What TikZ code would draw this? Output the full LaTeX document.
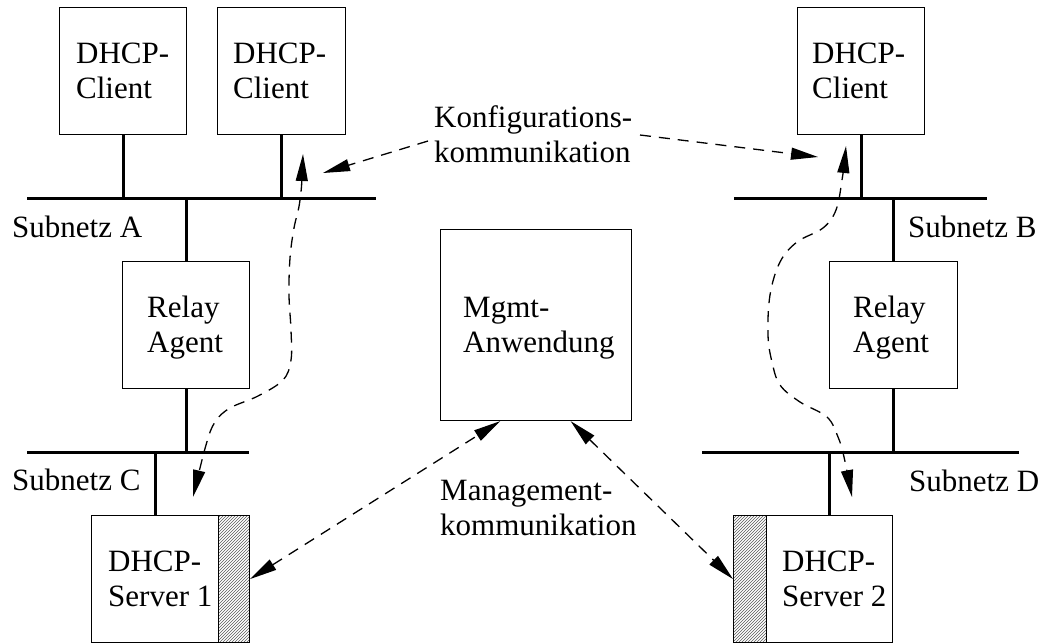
\documentclass[tikz,border=0pt]{standalone}
\usepackage{fontspec}
\setmainfont{Liberation Serif}
\usetikzlibrary{arrows.meta,patterns,calc}
\begin{document}
\begin{tikzpicture}[x=1pt,y=-1pt,
  every node/.style={font=\fontsize{31}{35}\selectfont},
  box/.style={draw, line width=1.1pt, inner sep=0pt, anchor=north west},
  lbl/.style={inner sep=0pt, align=left, anchor=north west},
  sublbl/.style={inner sep=0pt, anchor=base west},
  bus/.style={line width=3pt},
  flow/.style={line width=1.3pt, dash pattern=on 11pt off 8pt,
    -{Triangle[length=27pt,width=12pt]}},
  flow2/.style={flow,
    {Triangle[length=27pt,width=12pt]}-{Triangle[length=27pt,width=12pt]}},
  hatch/.style={draw, line width=1.1pt, inner sep=0pt, anchor=north west,
    pattern=north east lines, pattern color=black!65}
]
\useasboundingbox (0,0) rectangle (1049,643);

% ---- bus segments ----
\coordinate (busA-w) at (27,198);  \coordinate (busA-e) at (376,198);
\coordinate (busB-w) at (734,198); \coordinate (busB-e) at (987,198);
\coordinate (busC-w) at (27,452);  \coordinate (busC-e) at (249,452);
\coordinate (busD-w) at (702,452); \coordinate (busD-e) at (1019,452);
\draw[bus] (busA-w) -- (busA-e);
\draw[bus] (busB-w) -- (busB-e);
\draw[bus] (busC-w) -- (busC-e);
\draw[bus] (busD-w) -- (busD-e);

% ---- boxes ----
\node[box, minimum width=127pt, minimum height=127pt] (c1) at (59,7) {};
\node[box, minimum width=128pt, minimum height=127pt] (c2) at (217,7) {};
\node[box, minimum width=127pt, minimum height=127pt] (c3) at (797,7) {};
\node[box, minimum width=127pt, minimum height=127pt] (rA) at (122,261) {};
\node[box, minimum width=128pt, minimum height=127pt] (rB) at (829,261) {};
\node[box, minimum width=191pt, minimum height=191pt] (mgmt) at (440,229) {};
\node[box, minimum width=127pt, minimum height=127pt] (s1) at (91,515) {};
\node[hatch, minimum width=31pt, minimum height=127pt] (h1) at (218,515) {};
\node[hatch, minimum width=33pt, minimum height=127pt] (h2) at (733,515) {};
\node[box, minimum width=126pt, minimum height=127pt] (s2) at (766,515) {};

% ---- box texts ----
\node[lbl] (tc1) at (76,43) {DHCP-\\Client};
\node[lbl] (tc2) at (233,43) {DHCP-\\Client};
\node[lbl] (tc3) at (812,43) {DHCP-\\Client};
\node[lbl] (trA) at (147,296) {Relay\\Agent};
\node[lbl] (trB) at (853,296) {Relay\\Agent};
\node[lbl] (tm) at (463,296.5) {Mgmt-\\Anwendung};
\node[lbl] (ts1) at (108,550.5) {DHCP-\\Server 1};
\node[lbl] (ts2) at (782,550.5) {DHCP-\\Server 2};

% ---- subnet names ----
\node[sublbl] (nA) at (12,237) {Subnetz A};
\node[sublbl] (nB) at (908,237) {Subnetz B};
\node[sublbl] (nC) at (12,490) {Subnetz C};
\node[sublbl] (nD) at (909,491) {Subnetz D};

% ---- taps onto the buses ----
\draw[bus] (c1.south) -- (c1.south |- busA-w);
\draw[bus] (c2.south) -- (c2.south |- busA-w);
\draw[bus] (c3.south) -- (c3.south |- busB-w);
\draw[bus] (rA.north) -- (rA.north |- busA-w);
\draw[bus] (rA.south) -- (rA.south |- busC-w);
\draw[bus] (s1.north) -- (s1.north |- busC-w);
\draw[bus] (rB.north) -- (rB.north |- busB-w);
\draw[bus] (rB.south) -- (rB.south |- busD-w);
\draw[bus] (s2.north) -- (s2.north |- busD-w);

% ---- communication labels ----
\node[lbl] (tk) at (434,105.5) {Konfigurations-\\kommunikation};
\node[lbl] (tmk) at (440,479.5) {Management-\\kommunikation};

% ---- configuration traffic ----
\coordinate (kL) at (428,141);
\coordinate (kLend) at (323,173);
\coordinate (kR) at (640,135);
\coordinate (kRend) at (818,157);
\draw[flow] (kL) -- (kLend);
\draw[flow] (kR) -- (kRend);

\coordinate (pA-top) at (303,154);
\coordinate (pA-bot) at (193,497);
\draw[flow2] plot[smooth, tension=0.6] coordinates {
  (pA-top) (300,200) (294,228) (290,258) (289,295) (291,330) (291,360)
  (283,380) (258,396) (230,408) (215,422) (206,445) (pA-bot)};

\coordinate (pB-top) at (846,146);
\coordinate (pB-bot) at (852,497);
\draw[flow2] plot[smooth, tension=0.6] coordinates {
  (pB-top) (842,180) (836,210) (823,228) (797,242) (780,262) (770,295)
  (768,335) (772,362) (780,385) (800,402) (827,417) (838,437) (844,457)
  (pB-bot)};

% ---- management traffic ----
\draw[flow2] (h1.east) -- ($(mgmt.south west)!0.314!(mgmt.south east)$);
\draw[flow2] ($(mgmt.south west)!0.68!(mgmt.south east)$) -- (h2.west);
\end{tikzpicture}
\end{document}
